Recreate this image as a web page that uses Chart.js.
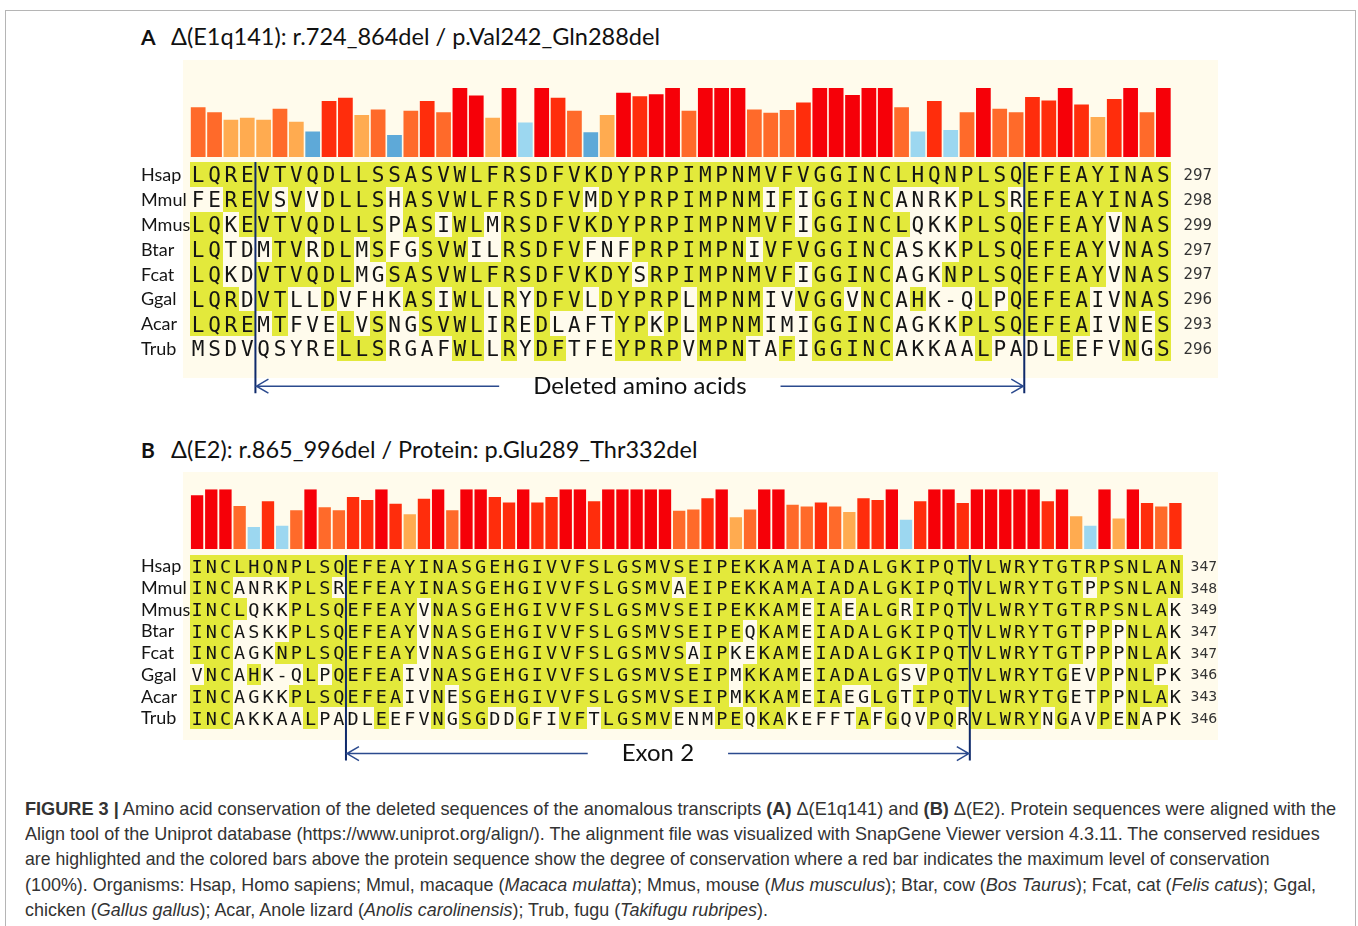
<!DOCTYPE html>
<html>
<head>
<meta charset="utf-8">
<script src="https://cdn.jsdelivr.net/npm/chart.js@4.4.1/dist/chart.umd.min.js"></script>
<style>
  body { margin: 0; background: #fff; width: 1358px; height: 926px; position: relative; overflow: hidden; font-family: Lato, "Open Sans", sans-serif; color: #111; }
  .frame { position: absolute; left: 5px; top: 10px; width: 1349px; height: 940px; border: 1px solid #b5b5b5; }
  .title { position: absolute; left: 141px; font-size: 23.5px; line-height: 28px; white-space: nowrap; }
  .title b { display: inline-block; width: 30px; font-size: 21px; }
  .panel { position: absolute; left: 183px; width: 1035px; background: #fffbec; }
  canvas { position: absolute; left: 0; }
  .caption { position: absolute; left: 25px; top: 796px; font-family: "Liberation Sans", Arial, sans-serif; font-size: 19px; line-height: 25.2px; color: #333; }
  .caption div { white-space: nowrap; transform-origin: 0 50%; }
</style>
</head>
<body>
<div class="frame"></div>
<div class="title" style="top:22px"><b>A</b>Δ(E1q141): r.724_864del / p.Val242_Gln288del</div>
<div class="title" style="top:435px"><b>B</b>Δ(E2): r.865_996del / Protein: p.Glu289_Thr332del</div>
<div class="panel" style="top:60px;height:318px"></div>
<div class="panel" style="top:472px;height:268px"></div>
<canvas id="chartA" width="1358" height="360" style="top:50px"></canvas>
<canvas id="chartB" width="1358" height="320" style="top:460px"></canvas>
<div class="caption">
  <div data-w="1311"><b>FIGURE 3 |</b> Amino acid conservation of the deleted sequences of the anomalous transcripts <b>(A)</b> Δ(E1q141) and <b>(B)</b> Δ(E2). Protein sequences were aligned with the</div>
  <div data-w="1302">Align tool of the Uniprot database (https://www.uniprot.org/align/). The alignment file was visualized with SnapGene Viewer version 4.3.11. The conserved residues</div>
  <div data-w="1276">are highlighted and the colored bars above the protein sequence show the degree of conservation where a red bar indicates the maximum level of conservation</div>
  <div data-w="1296">(100%). Organisms: Hsap, Homo sapiens; Mmul, macaque (<i>Macaca mulatta</i>); Mmus, mouse (<i>Mus musculus</i>); Btar, cow (<i>Bos Taurus</i>); Fcat, cat (<i>Felis catus</i>); Ggal,</div>
  <div>chicken (<i>Gallus gallus</i>); Acar, Anole lizard (<i>Anolis carolinensis</i>); Trub, fugu (<i>Takifugu rubripes</i>).</div>
</div>
<script>
/* species shared by both panels */
const species = ["Hsap", "Mmul", "Mmus", "Btar", "Fcat", "Ggal", "Acar", "Trub"];

/* panel A: Δ(E1q141) */
const seqA = [
  "LQREVTVQDLLSSASVWLFRSDFVKDYPRPIMPNMVFVGGINCLHQNPLSQEFEAYINAS",
  "FEREVSVVDLLSHASVWLFRSDFVMDYPRPIMPNMIFIGGINCANRKPLSREFEAYINAS",
  "LQKEVTVQDLLSPASIWLMRSDFVKDYPRPIMPNMVFIGGINCLQKKPLSQEFEAYVNAS",
  "LQTDMTVRDLMSFGSVWILRSDFVFNFPRPIMPNIVFVGGINCASKKPLSQEFEAYVNAS",
  "LQKDVTVQDLMGSASVWLFRSDFVKDYSRPIMPNMVFIGGINCAGKNPLSQEFEAYVNAS",
  "LQRDVTLLDVFHKASIWLLRYDFVLDYPRPLMPNMIVVGGVNCAHK-QLPQEFEAIVNAS",
  "LQREMTFVELVSNGSVWLIREDLAFTYPKPLMPNMIMIGGINCAGKKPLSQEFEAIVNES",
  "MSDVQSYRELLSRGAFWLLRYDFTFEYPRPVMPNTAFIGGINCAKKAALPADLEEFVNGS"
];
const endA = [297, 298, 299, 297, 297, 296, 293, 296];
// conservation (%) per column and its colour class (0 = lowest ... 5 = full)
const consA = [72, 65, 54, 57, 54, 70, 51, 37, 81, 86, 61, 69, 32, 67, 81, 65, 100, 89, 57, 100,
               50, 100, 86, 67, 36, 61, 93, 88, 91, 100, 67, 100, 100, 100, 69, 64, 68, 79, 100, 100,
               90, 100, 100, 72, 37, 81, 39, 65, 100, 70, 65, 87, 82, 100, 76, 58, 84, 100, 65, 100];
const levelA = [3, 3, 2, 2, 2, 3, 2, 0, 4, 4, 2, 3, 0, 3, 4, 3, 5, 5, 2, 5,
                1, 5, 4, 3, 0, 2, 5, 4, 5, 5, 3, 5, 5, 5, 3, 3, 3, 4, 5, 5,
                5, 5, 5, 3, 1, 4, 1, 3, 5, 3, 3, 4, 4, 5, 4, 2, 4, 5, 3, 5];
const cutA = [4, 51];

/* panel B: Δ(E2) */
const seqB = [
  "INCLHQNPLSQEFEAYINASGEHGIVVFSLGSMVSEIPEKKAMAIADALGKIPQTVLWRYTGTRPSNLAN",
  "INCANRKPLSREFEAYINASGEHGIVVFSLGSMVAEIPEKKAMAIADALGKIPQTVLWRYTGTPPSNLAN",
  "INCLQKKPLSQEFEAYVNASGEHGIVVFSLGSMVSEIPEKKAMEIAEALGRIPQTVLWRYTGTRPSNLAK",
  "INCASKKPLSQEFEAYVNASGEHGIVVFSLGSMVSEIPEQKAMEIADALGKIPQTVLWRYTGTPPPNLAK",
  "INCAGKNPLSQEFEAYVNASGEHGIVVFSLGSMVSAIPKEKAMEIADALGKIPQTVLWRYTGTPPPNLAK",
  "VNCAHK-QLPQEFEAIVNASGEHGIVVFSLGSMVSEIPMKKAMEIADALGSVPQTVLWRYTGEVPPNLPK",
  "INCAGKKPLSQEFEAIVNESGEHGIVVFSLGSMVSEIPMKKAMEIAEGLGTIPQTVLWRYTGETPPNLAK",
  "INCAKKAALPADLEEFVNGSGDDGFIVFTLGSMVENMPEQKAKEFFTAFGQVPQRVLWRYNGAVPENAPK"
];
const endB = [347, 348, 349, 347, 347, 346, 343, 346];
const consB = [90, 100, 100, 72, 37, 80, 39, 65, 100, 70, 65, 87, 82, 100, 76, 58, 84, 100, 65, 100,
               100, 87, 78, 100, 78, 87, 100, 100, 80, 100, 100, 100, 100, 100, 64, 66, 85, 100, 53, 66,
               100, 100, 74, 71, 78, 71, 62, 85, 82, 100, 49, 80, 100, 100, 77, 100, 100, 100, 100, 100,
               80, 100, 55, 39, 100, 51, 100, 77, 71, 77];
const levelB = [5, 5, 5, 3, 1, 4, 1, 3, 5, 3, 3, 4, 4, 5, 4, 2, 4, 5, 3, 5,
                5, 4, 4, 5, 4, 4, 5, 5, 4, 5, 5, 5, 5, 5, 3, 3, 4, 5, 2, 3,
                5, 5, 3, 3, 4, 3, 2, 4, 4, 5, 1, 4, 5, 5, 4, 5, 5, 5, 5, 5,
                4, 5, 2, 1, 5, 2, 5, 4, 3, 4];
const cutB = [11, 55];

const levelColors = ["#5ea9d8", "#9cd7f0", "#ffab50", "#ff6a2a", "#ff2d0c", "#f60008"];
const HILITE = "#e3e93b";

// draws the alignment (cells, residues, names, end numbers) and the bracket under it
function alignmentPlugin(cfg) {
  return {
    id: "alignment",
    afterDatasetsDraw(chart) {
      const { ctx, scales: { x, rows } } = chart;
      const colW = x.getPixelForValue(1) - x.getPixelForValue(0);
      const rowH = rows.getPixelForValue(1) - rows.getPixelForValue(0);
      const ref = cfg.seqs[0];
      ctx.save();
      // highlighted cells: residues identical to the human sequence
      ctx.fillStyle = HILITE;
      cfg.seqs.forEach((s, r) => {
        const yc = rows.getPixelForValue(r);
        const y0 = Math.round(yc - rowH / 2), y1 = Math.round(yc + rowH / 2);
        for (let i = 0; i < s.length; i++) {
          if (s[i] !== ref[i]) continue;
          const xc = x.getPixelForValue(i);
          const x0 = Math.round(xc - colW / 2), x1 = Math.round(xc + colW / 2);
          ctx.fillRect(x0, y0, x1 - x0, y1 - y0);
        }
      });
      // residues
      ctx.fillStyle = "#151515";
      ctx.textAlign = "center";
      ctx.textBaseline = "alphabetic";
      ctx.font = cfg.seqFont + 'px "DejaVu Sans Mono"';
      cfg.seqs.forEach((s, r) => {
        const yb = rows.getPixelForValue(r) + cfg.seqFont * 0.365;
        for (let i = 0; i < s.length; i++) ctx.fillText(s[i], x.getPixelForValue(i), yb);
      });
      // species names and end positions
      ctx.textAlign = "left";
      ctx.font = cfg.nameFont + "px Lato";
      cfg.names.forEach((n, r) => ctx.fillText(n, 141, rows.getPixelForValue(r) + cfg.nameFont * 0.36));
      ctx.fillStyle = "#333";
      ctx.font = cfg.numFont + 'px "DejaVu Sans"';
      cfg.ends.forEach((n, r) => ctx.fillText(String(n), x.right + cfg.numGap, rows.getPixelForValue(r) + cfg.numFont * 0.36));
      // region boundaries and double arrow
      const xa = (x.getPixelForValue(cfg.cut[0] - 1) + x.getPixelForValue(cfg.cut[0])) / 2;
      const xb = (x.getPixelForValue(cfg.cut[1] - 1) + x.getPixelForValue(cfg.cut[1])) / 2;
      ctx.strokeStyle = "#0f2a6b";
      ctx.lineWidth = 2;
      ctx.beginPath();
      [xa, xb].forEach(xx => { ctx.moveTo(xx, rows.top); ctx.lineTo(xx, rows.bottom + 32); });
      ctx.stroke();
      const ya = rows.bottom + 25;
      ctx.font = cfg.noteFont + "px Lato";
      const half = ctx.measureText(cfg.note).width / 2 + 34;
      const xm = (xa + xb) / 2;
      ctx.strokeStyle = "#2b4a8e";
      ctx.lineWidth = 1.5;
      ctx.beginPath();
      ctx.moveTo(xa, ya); ctx.lineTo(xm - half, ya);
      ctx.moveTo(xm + half, ya); ctx.lineTo(xb, ya);
      ctx.moveTo(xa + 13, ya - 7); ctx.lineTo(xa + 1, ya); ctx.lineTo(xa + 13, ya + 7);
      ctx.moveTo(xb - 13, ya - 7); ctx.lineTo(xb - 1, ya); ctx.lineTo(xb - 13, ya + 7);
      ctx.stroke();
      ctx.fillStyle = "#111";
      ctx.textAlign = "center";
      ctx.textBaseline = "middle";
      ctx.fillText(cfg.note, xm, ya);
      ctx.restore();
    }
  };
}

function makePanel(id, seqs, cons, levels, ends, cut, geo) {
  return new Chart(document.getElementById(id), {
    type: "bar",
    data: {
      labels: seqs[0].split(""),
      datasets: [{
        data: cons.map(v => v / 100),
        backgroundColor: levels.map(l => levelColors[l]),
        borderWidth: 0,
        barPercentage: geo.barPct,
        categoryPercentage: 1.0
      }]
    },
    options: {
      responsive: false, animation: false, devicePixelRatio: 1, events: [],
      layout: { padding: geo.padding },
      plugins: { legend: { display: false }, tooltip: { enabled: false } },
      scales: {
        x: { display: false, offset: true, grid: { display: false } },
        y: { type: "linear", display: false, position: "left", min: geo.barMin, max: 1,
             stack: "panel", stackWeight: geo.barH, weight: 2 },
        rows: { type: "category", labels: species, offset: true, display: false, position: "left",
                stack: "panel", stackWeight: geo.rowsH, weight: 1 }
      }
    },
    plugins: [alignmentPlugin({
      seqs, names: species, ends, cut,
      seqFont: geo.seqFont, nameFont: geo.nameFont, numFont: geo.numFont, numGap: geo.numGap,
      note: geo.note, noteFont: 24
    })]
  });
}

function fitCaption() {
  const lines = document.querySelectorAll(".caption div");
  let k = 1;
  lines.forEach(el => {
    const w = Number(el.dataset.w || 0);
    if (w) k = w / el.scrollWidth;
    el.style.transform = "scaleX(" + k + ")";
  });
}

document.fonts.ready.then(() => {
  makePanel("chartA", seqA, consA, levelA, endA, cutA, {
    padding: { left: 190, right: 186.5, top: 38, bottom: 48.8 },
    barMin: -0.0725, barH: 74, rowsH: 199.2, barPct: 0.9,
    seqFont: 21, nameFont: 18, numFont: 15, numGap: 12, note: "Deleted amino acids"
  });
  makePanel("chartB", seqB, consB, levelB, endB, cutB, {
    padding: { left: 190, right: 175.5, top: 29.3, bottom: 51.4 },
    barMin: -0.1005, barH: 65.7, rowsH: 173.6, barPct: 0.87,
    seqFont: 18.5, nameFont: 18, numFont: 14, numGap: 8, note: "Exon 2"
  });
  fitCaption();
});
</script>
</body>
</html>
